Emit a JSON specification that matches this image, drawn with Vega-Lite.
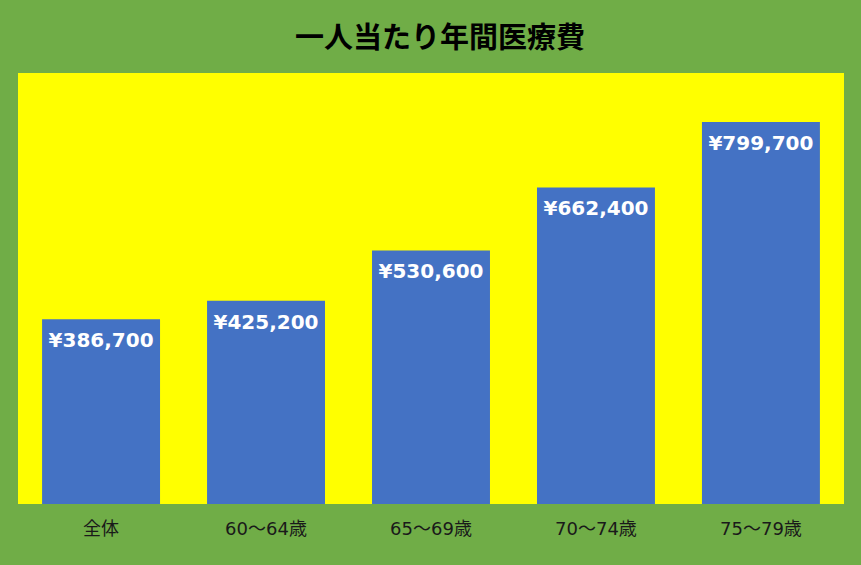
{
  "$schema": "https://vega.github.io/schema/vega-lite/v6.json",
  "width": 826,
  "height": 431,
  "autosize": "none",
  "padding": {"left": 18, "top": 73, "right": 17, "bottom": 61},
  "background": "#70AD47",
  "title": {
    "text": "一人当たり年間医療費",
    "font": "Noto Sans CJK JP",
    "fontSize": 29,
    "fontWeight": "bold",
    "color": "#000000",
    "anchor": "middle",
    "offset": 19,
    "dx": 9
  },
  "config": {
    "view": {"fill": "#FFFF00", "stroke": null}
  },
  "data": {
    "values": [
      {"group": "全体", "cost": 386700, "label": "¥386,700"},
      {"group": "60～64歳", "cost": 425200, "label": "¥425,200"},
      {"group": "65～69歳", "cost": 530600, "label": "¥530,600"},
      {"group": "70～74歳", "cost": 662400, "label": "¥662,400"},
      {"group": "75～79歳", "cost": 799700, "label": "¥799,700"}
    ]
  },
  "encoding": {
    "x": {
      "field": "group",
      "type": "nominal",
      "sort": null,
      "scale": {"paddingInner": 0.285, "paddingOuter": 0.146},
      "axis": {
        "title": null,
        "domain": false,
        "ticks": false,
        "labelAngle": 0,
        "labelPadding": 16,
        "labelFont": "DejaVu Sans, Noto Sans CJK JP",
        "labelFontSize": 18,
        "labelColor": "#1a1a1a"
      }
    },
    "y": {
      "field": "cost",
      "type": "quantitative",
      "scale": {"domain": [0, 902000], "nice": false},
      "axis": null
    }
  },
  "layer": [
    {"mark": {"type": "bar", "color": "#4472C4"}},
    {
      "mark": {
        "type": "text",
        "baseline": "top",
        "dy": 12,
        "color": "#FFFFFF",
        "font": "DejaVu Sans",
        "fontWeight": "bold",
        "fontSize": 20
      },
      "encoding": {"text": {"field": "label"}}
    }
  ]
}
